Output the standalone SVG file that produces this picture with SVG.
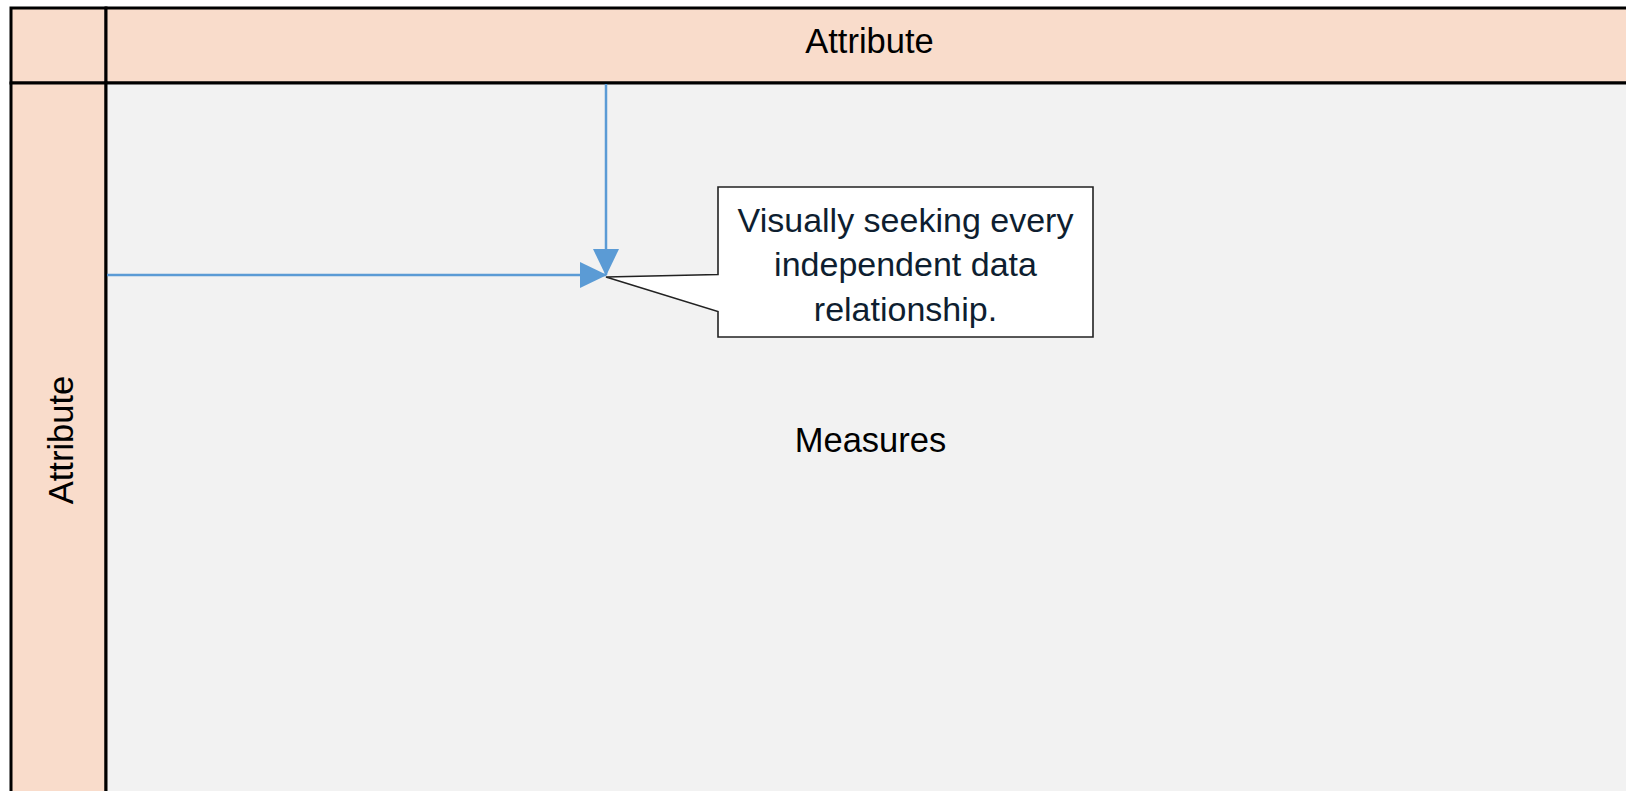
<svg xmlns="http://www.w3.org/2000/svg" width="1626" height="791" viewBox="0 0 1626 791">
  <style>
    .hdr { fill: #F9DCCB; stroke: #000; stroke-width: 3; }
    .body { fill: #F2F2F2; stroke: #000; stroke-width: 3; }
    .lbl { font-family: "Liberation Sans", Arial, sans-serif; font-size: 34.5px; fill: #000; text-anchor: middle; }
    .note { font-family: "Liberation Sans", Arial, sans-serif; font-size: 34px; fill: #0E1E30; text-anchor: middle; }
    .flow { fill: none; stroke: #5B9BD5; stroke-width: 2.5; }
  </style>
  <defs>
    <marker id="arrow" viewBox="0 0 27 26" refX="26" refY="13" markerWidth="27" markerHeight="26" markerUnits="userSpaceOnUse" orient="auto">
      <path d="M0,0 L27,13 L0,26 Z" fill="#5B9BD5"/>
    </marker>
  </defs>
  <rect width="1626" height="791" fill="#fff"/>

  <!-- top-left corner cell -->
  <g id="corner">
    <rect class="hdr" x="11" y="8" width="95" height="75"/>
  </g>

  <!-- column header -->
  <g id="col-header">
    <rect class="hdr" x="106" y="8" width="1540" height="75"/>
    <text class="lbl" x="869.5" y="52.5">Attribute</text>
  </g>

  <!-- row header -->
  <g id="row-header">
    <rect class="hdr" x="11" y="83" width="95" height="730"/>
    <text class="lbl" transform="translate(72.5,440) rotate(-90)">Attribute</text>
  </g>

  <!-- measures area -->
  <g id="measures">
    <rect class="body" x="106" y="83" width="1540" height="730"/>
    <text class="lbl" x="870.5" y="452">Measures</text>
  </g>

  <!-- connectors -->
  <g id="connectors">
    <line class="flow" x1="606" y1="84" x2="606" y2="275" marker-end="url(#arrow)"/>
    <line class="flow" x1="107" y1="275" x2="606" y2="275" marker-end="url(#arrow)"/>
  </g>

  <!-- callout -->
  <g id="callout">
    <path d="M718,187 L1093,187 L1093,337 L718,337 L718,311.5 L606,277 L718,274.5 Z" fill="#fff" stroke="#222" stroke-width="1.6" stroke-linejoin="miter"/>
    <text class="note" x="905.5" y="231.5">Visually seeking every</text>
    <text class="note" x="905.5" y="276">independent data</text>
    <text class="note" x="905.5" y="320.5">relationship.</text>
  </g>
</svg>
